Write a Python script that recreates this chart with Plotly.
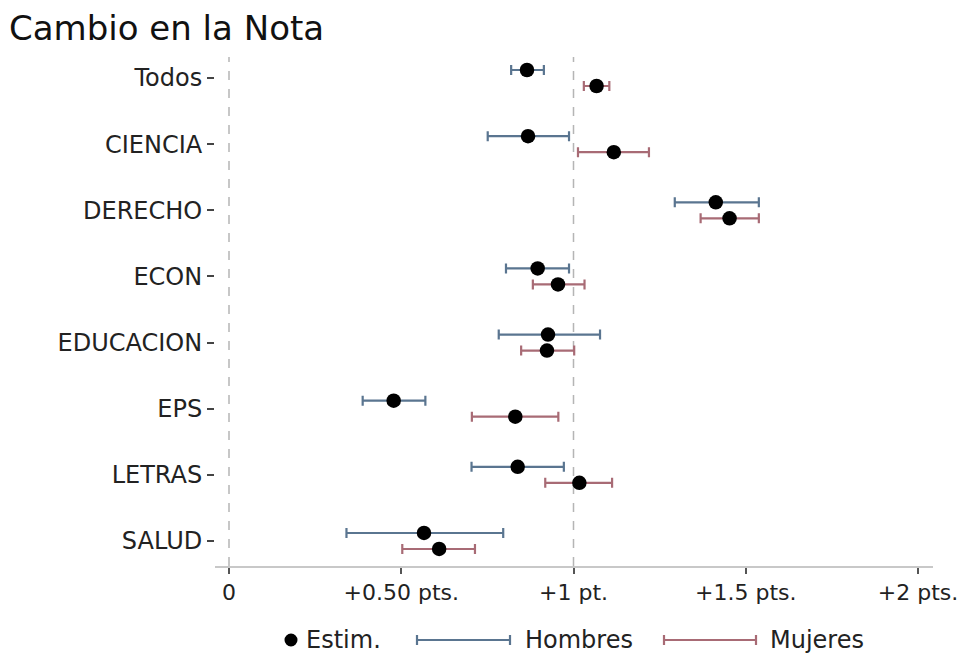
import plotly.graph_objects as go

categories = ["Todos", "CIENCIA", "DERECHO", "ECON", "EDUCACION", "EPS", "LETRAS", "SALUD"]

hombres_est = [0.865, 0.868, 1.413, 0.896, 0.926, 0.478, 0.838, 0.566]
hombres_lo = [0.819, 0.751, 1.294, 0.804, 0.783, 0.388, 0.704, 0.341]
hombres_hi = [0.914, 0.987, 1.538, 0.987, 1.077, 0.570, 0.972, 0.796]

mujeres_est = [1.067, 1.117, 1.453, 0.955, 0.923, 0.831, 1.017, 0.610]
mujeres_lo = [1.030, 1.013, 1.369, 0.882, 0.848, 0.705, 0.918, 0.503]
mujeres_hi = [1.104, 1.219, 1.538, 1.032, 1.002, 0.956, 1.112, 0.714]

x_tickvals = [0, 0.5, 1, 1.5, 2]
x_ticktext = ["0", "+0.50 pts.", "+1 pt.", "+1.5 pts.", "+2 pts."]

C_H = "#5a7590"
C_M = "#a86b75"
FONT = "DejaVu Sans"

W, H = 959, 655
ML, MR, MT, MB = 215, 26, 57, 89
PW, PH = W - ML - MR, H - MT - MB

def px(xp):
    return (xp - ML) / PW

def py(yp):
    return (H - MB - yp) / PH

off = 0.121
pos = list(range(len(categories)))

fig = go.Figure()
for est, lo, hi, col, sgn in [(hombres_est, hombres_lo, hombres_hi, C_H, -1),
                              (mujeres_est, mujeres_lo, mujeres_hi, C_M, 1)]:
    fig.add_trace(go.Scatter(
        x=est,
        y=[p + sgn * off for p in pos],
        mode="markers",
        marker=dict(color="black", size=14.5),
        error_x=dict(type="data", symmetric=False,
                     array=[h - e for h, e in zip(hi, est)],
                     arrayminus=[e - l for e, l in zip(est, lo)],
                     color=col, thickness=2.2, width=5),
        showlegend=False,
        hoverinfo="skip",
    ))

for xv in [0, 1]:
    fig.add_shape(type="line", xref="x", yref="paper", x0=xv, x1=xv, y0=0, y1=1,
                  line=dict(color="#b5b5b5", width=1.5, dash="dash"), layer="below")

# manual legend
ly = py(640)
fig.add_shape(type="circle", xref="paper", yref="paper", xsizemode="pixel", ysizemode="pixel",
              xanchor=px(291), yanchor=ly, x0=-6.5, x1=6.5, y0=-6.5, y1=6.5,
              fillcolor="black", line=dict(color="black", width=0))
for x0, x1, col in [(417, 510, C_H), (664, 756, C_M)]:
    fig.add_shape(type="line", xref="paper", yref="paper", x0=px(x0), x1=px(x1), y0=ly, y1=ly,
                  line=dict(color=col, width=2.2))
    for xe in (x0, x1):
        fig.add_shape(type="line", xref="paper", yref="paper", x0=px(xe), x1=px(xe),
                      y0=ly - 5 / PH, y1=ly + 5 / PH, line=dict(color=col, width=2.2))
for xt, txt in [(304, "Estim."), (523, "Hombres"), (768, "Mujeres")]:
    fig.add_annotation(xref="paper", yref="paper", x=px(xt), y=ly, text=txt, showarrow=False,
                       xanchor="left", yanchor="middle", font=dict(family=FONT, size=24, color="#222"))

fig.update_layout(
    width=W, height=H,
    margin=dict(l=ML, r=MR, t=MT, b=MB, autoexpand=False),
    paper_bgcolor="white", plot_bgcolor="white",
    font=dict(family=FONT, size=24, color="#222"),
    title=dict(text="Cambio en la Nota", x=9 / W, xref="container", xanchor="left",
               y=1 - 28 / H, yref="container", yanchor="middle",
               font=dict(family=FONT, size=34, color="#111")),
    xaxis=dict(range=[-14 / 344.5, (933 - 229) / 344.5], tickvals=x_tickvals, ticktext=x_ticktext,
               showgrid=False, zeroline=False, showline=True, linecolor="#c8c8c8", linewidth=1.5,
               ticks="outside", ticklen=6, tickcolor="#555", tickwidth=1.5,
               ticklabeloverflow="allow", automargin=False,
               tickfont=dict(family=FONT, size=22, color="#222")),
    yaxis=dict(range=[(566 - 78) / 66.14, (57 - 78) / 66.14], tickvals=pos, ticktext=categories,
               showgrid=False, zeroline=False, showline=False, automargin=False,
               ticks="outside", ticklen=7, tickcolor="#444", tickwidth=2,
               tickfont=dict(family=FONT, size=24, color="#222")),
)

fig.write_html("out.html")
